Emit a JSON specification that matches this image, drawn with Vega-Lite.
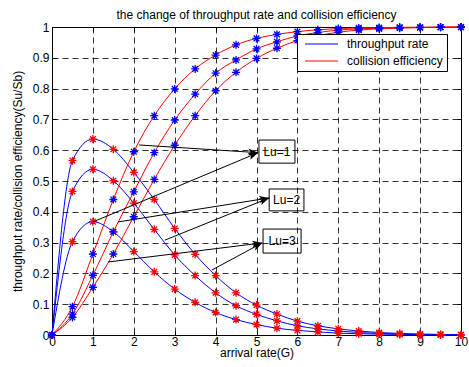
{
  "$schema": "https://vega.github.io/schema/vega-lite/v6.json",
  "width": 409,
  "height": 308,
  "autosize": {"type": "none"},
  "padding": {"left": 52, "top": 27, "right": 8, "bottom": 32},
  "background": "white",
  "title": {
    "text": "the change of throughput rate and collision efficiency",
    "fontSize": 12,
    "fontWeight": "normal",
    "color": "black",
    "frame": "group",
    "anchor": "middle",
    "baseline": "alphabetic",
    "offset": -11
  },
  "config": {
    "font": "Liberation Sans",
    "view": {"stroke": "black", "strokeWidth": 1},
    "axis": {
      "domainColor": "black",
      "tickColor": "black",
      "labelColor": "black",
      "titleColor": "black",
      "labelFontSize": 12,
      "titleFontSize": 12,
      "titleFontWeight": "normal",
      "gridColor": "black",
      "gridDash": [6, 4],
      "gridOpacity": 0.8,
      "tickSize": -4,
      "labelPadding": 6,
      "labelFlush": false
    }
  },
  "datasets": {
    "curves": [
      {"G":0,"v":0,"s":"S1","k":"throughput rate"},{"G":0.5,"v":0.566,"s":"S1","k":"throughput rate"},{"G":1,"v":0.636,"s":"S1","k":"throughput rate"},{"G":1.5,"v":0.603,"s":"S1","k":"throughput rate"},{"G":2,"v":0.528,"s":"S1","k":"throughput rate"},{"G":2.5,"v":0.44,"s":"S1","k":"throughput rate"},{"G":3,"v":0.346,"s":"S1","k":"throughput rate"},{"G":3.5,"v":0.262,"s":"S1","k":"throughput rate"},{"G":4,"v":0.193,"s":"S1","k":"throughput rate"},{"G":4.5,"v":0.137,"s":"S1","k":"throughput rate"},{"G":5,"v":0.097,"s":"S1","k":"throughput rate"},{"G":5.5,"v":0.068,"s":"S1","k":"throughput rate"},{"G":6,"v":0.045,"s":"S1","k":"throughput rate"},{"G":6.5,"v":0.03,"s":"S1","k":"throughput rate"},{"G":7,"v":0.02,"s":"S1","k":"throughput rate"},{"G":7.5,"v":0.013,"s":"S1","k":"throughput rate"},{"G":8,"v":0.008,"s":"S1","k":"throughput rate"},{"G":8.5,"v":0.005,"s":"S1","k":"throughput rate"},{"G":9,"v":0.003,"s":"S1","k":"throughput rate"},{"G":9.5,"v":0.002,"s":"S1","k":"throughput rate"},{"G":10,"v":0.001,"s":"S1","k":"throughput rate"},
      {"G":0,"v":0,"s":"S2","k":"throughput rate"},{"G":0.5,"v":0.466,"s":"S2","k":"throughput rate"},{"G":1,"v":0.538,"s":"S2","k":"throughput rate"},{"G":1.5,"v":0.501,"s":"S2","k":"throughput rate"},{"G":2,"v":0.428,"s":"S2","k":"throughput rate"},{"G":2.5,"v":0.343,"s":"S2","k":"throughput rate"},{"G":3,"v":0.26,"s":"S2","k":"throughput rate"},{"G":3.5,"v":0.193,"s":"S2","k":"throughput rate"},{"G":4,"v":0.137,"s":"S2","k":"throughput rate"},{"G":4.5,"v":0.095,"s":"S2","k":"throughput rate"},{"G":5,"v":0.067,"s":"S2","k":"throughput rate"},{"G":5.5,"v":0.046,"s":"S2","k":"throughput rate"},{"G":6,"v":0.03,"s":"S2","k":"throughput rate"},{"G":6.5,"v":0.02,"s":"S2","k":"throughput rate"},{"G":7,"v":0.013,"s":"S2","k":"throughput rate"},{"G":7.5,"v":0.008,"s":"S2","k":"throughput rate"},{"G":8,"v":0.005,"s":"S2","k":"throughput rate"},{"G":8.5,"v":0.003,"s":"S2","k":"throughput rate"},{"G":9,"v":0.002,"s":"S2","k":"throughput rate"},{"G":9.5,"v":0.001,"s":"S2","k":"throughput rate"},{"G":10,"v":0.001,"s":"S2","k":"throughput rate"},
      {"G":0,"v":0,"s":"S3","k":"throughput rate"},{"G":0.5,"v":0.303,"s":"S3","k":"throughput rate"},{"G":1,"v":0.368,"s":"S3","k":"throughput rate"},{"G":1.5,"v":0.335,"s":"S3","k":"throughput rate"},{"G":2,"v":0.271,"s":"S3","k":"throughput rate"},{"G":2.5,"v":0.205,"s":"S3","k":"throughput rate"},{"G":3,"v":0.149,"s":"S3","k":"throughput rate"},{"G":3.5,"v":0.106,"s":"S3","k":"throughput rate"},{"G":4,"v":0.073,"s":"S3","k":"throughput rate"},{"G":4.5,"v":0.05,"s":"S3","k":"throughput rate"},{"G":5,"v":0.034,"s":"S3","k":"throughput rate"},{"G":5.5,"v":0.022,"s":"S3","k":"throughput rate"},{"G":6,"v":0.015,"s":"S3","k":"throughput rate"},{"G":6.5,"v":0.01,"s":"S3","k":"throughput rate"},{"G":7,"v":0.006,"s":"S3","k":"throughput rate"},{"G":7.5,"v":0.004,"s":"S3","k":"throughput rate"},{"G":8,"v":0.003,"s":"S3","k":"throughput rate"},{"G":8.5,"v":0.002,"s":"S3","k":"throughput rate"},{"G":9,"v":0.001,"s":"S3","k":"throughput rate"},{"G":9.5,"v":0.001,"s":"S3","k":"throughput rate"},{"G":10,"v":0,"s":"S3","k":"throughput rate"},
      {"G":0,"v":0,"s":"E1","k":"collision efficiency"},{"G":0.5,"v":0.092,"s":"E1","k":"collision efficiency"},{"G":1,"v":0.263,"s":"E1","k":"collision efficiency"},{"G":1.5,"v":0.44,"s":"E1","k":"collision efficiency"},{"G":2,"v":0.595,"s":"E1","k":"collision efficiency"},{"G":2.5,"v":0.712,"s":"E1","k":"collision efficiency"},{"G":3,"v":0.799,"s":"E1","k":"collision efficiency"},{"G":3.5,"v":0.864,"s":"E1","k":"collision efficiency"},{"G":4,"v":0.909,"s":"E1","k":"collision efficiency"},{"G":4.5,"v":0.942,"s":"E1","k":"collision efficiency"},{"G":5,"v":0.963,"s":"E1","k":"collision efficiency"},{"G":5.5,"v":0.976,"s":"E1","k":"collision efficiency"},{"G":6,"v":0.985,"s":"E1","k":"collision efficiency"},{"G":6.5,"v":0.991,"s":"E1","k":"collision efficiency"},{"G":7,"v":0.995,"s":"E1","k":"collision efficiency"},{"G":7.5,"v":0.997,"s":"E1","k":"collision efficiency"},{"G":8,"v":0.998,"s":"E1","k":"collision efficiency"},{"G":8.5,"v":0.999,"s":"E1","k":"collision efficiency"},{"G":9,"v":0.999,"s":"E1","k":"collision efficiency"},{"G":9.5,"v":1,"s":"E1","k":"collision efficiency"},{"G":10,"v":1,"s":"E1","k":"collision efficiency"},
      {"G":0,"v":0,"s":"E2","k":"collision efficiency"},{"G":0.5,"v":0.068,"s":"E2","k":"collision efficiency"},{"G":1,"v":0.194,"s":"E2","k":"collision efficiency"},{"G":1.5,"v":0.335,"s":"E2","k":"collision efficiency"},{"G":2,"v":0.465,"s":"E2","k":"collision efficiency"},{"G":2.5,"v":0.592,"s":"E2","k":"collision efficiency"},{"G":3,"v":0.698,"s":"E2","k":"collision efficiency"},{"G":3.5,"v":0.782,"s":"E2","k":"collision efficiency"},{"G":4,"v":0.85,"s":"E2","k":"collision efficiency"},{"G":4.5,"v":0.893,"s":"E2","k":"collision efficiency"},{"G":5,"v":0.929,"s":"E2","k":"collision efficiency"},{"G":5.5,"v":0.952,"s":"E2","k":"collision efficiency"},{"G":6,"v":0.971,"s":"E2","k":"collision efficiency"},{"G":6.5,"v":0.982,"s":"E2","k":"collision efficiency"},{"G":7,"v":0.99,"s":"E2","k":"collision efficiency"},{"G":7.5,"v":0.994,"s":"E2","k":"collision efficiency"},{"G":8,"v":0.996,"s":"E2","k":"collision efficiency"},{"G":8.5,"v":0.998,"s":"E2","k":"collision efficiency"},{"G":9,"v":0.999,"s":"E2","k":"collision efficiency"},{"G":9.5,"v":0.999,"s":"E2","k":"collision efficiency"},{"G":10,"v":1,"s":"E2","k":"collision efficiency"},
      {"G":0,"v":0,"s":"E3","k":"collision efficiency"},{"G":0.5,"v":0.057,"s":"E3","k":"collision efficiency"},{"G":1,"v":0.155,"s":"E3","k":"collision efficiency"},{"G":1.5,"v":0.263,"s":"E3","k":"collision efficiency"},{"G":2,"v":0.384,"s":"E3","k":"collision efficiency"},{"G":2.5,"v":0.505,"s":"E3","k":"collision efficiency"},{"G":3,"v":0.616,"s":"E3","k":"collision efficiency"},{"G":3.5,"v":0.712,"s":"E3","k":"collision efficiency"},{"G":4,"v":0.793,"s":"E3","k":"collision efficiency"},{"G":4.5,"v":0.853,"s":"E3","k":"collision efficiency"},{"G":5,"v":0.898,"s":"E3","k":"collision efficiency"},{"G":5.5,"v":0.931,"s":"E3","k":"collision efficiency"},{"G":6,"v":0.956,"s":"E3","k":"collision efficiency"},{"G":6.5,"v":0.972,"s":"E3","k":"collision efficiency"},{"G":7,"v":0.983,"s":"E3","k":"collision efficiency"},{"G":7.5,"v":0.99,"s":"E3","k":"collision efficiency"},{"G":8,"v":0.994,"s":"E3","k":"collision efficiency"},{"G":8.5,"v":0.996,"s":"E3","k":"collision efficiency"},{"G":9,"v":0.998,"s":"E3","k":"collision efficiency"},{"G":9.5,"v":0.999,"s":"E3","k":"collision efficiency"},{"G":10,"v":0.999,"s":"E3","k":"collision efficiency"}
    ],
    "arrows": [
      {"lab":"Lu=1","G":2.13,"v":0.617,"G2":5.04,"v2":0.592},
      {"lab":"Lu=1","G":1.0,"v":0.367,"G2":5.04,"v2":0.592},
      {"lab":"Lu=2","G":1.61,"v":0.367,"G2":5.31,"v2":0.445},
      {"lab":"Lu=2","G":2.76,"v":0.308,"G2":5.31,"v2":0.445},
      {"lab":"Lu=3","G":1.37,"v":0.237,"G2":5.14,"v2":0.299},
      {"lab":"Lu=3","G":3.91,"v":0.211,"G2":5.14,"v2":0.299}
    ],
    "boxes": [
      {"lab":"Lu=1","G":5.06,"G2":5.94,"v":0.558,"v2":0.633,"Gc":5.5,"vc":0.595},
      {"lab":"Lu=2","G":5.31,"G2":6.16,"v":0.403,"v2":0.474,"Gc":5.735,"vc":0.438},
      {"lab":"Lu=3","G":5.16,"G2":6.09,"v":0.266,"v2":0.344,"Gc":5.625,"vc":0.305}
    ]
  },
  "encoding": {
    "x": {"field": "G", "type": "quantitative", "scale": {"domain": [0, 10], "nice": false}, "axis": null},
    "y": {"field": "v", "type": "quantitative", "scale": {"domain": [0, 1], "nice": false}, "axis": null}
  },
  "layer": [
    {
      "data": {"name": "curves"},
      "transform": [{"filter": "datum.k == 'throughput rate'"}],
      "mark": {"type": "line", "interpolate": "monotone", "strokeWidth": 1},
      "encoding": {
        "x": {"field": "G", "type": "quantitative", "scale": {"domain": [0, 10], "nice": false},
          "axis": {"orient": "bottom", "values": [0,1,2,3,4,5,6,7,8,9,10], "format": "~r", "grid": true, "labelPadding": 5,
            "title": "arrival rate(G)", "titleBaseline": "alphabetic", "titleY": 21}},
        "y": {"field": "v", "type": "quantitative", "scale": {"domain": [0, 1], "nice": false},
          "axis": {"orient": "left", "values": [0,0.1,0.2,0.3,0.4,0.5,0.6,0.7,0.8,0.9,1], "format": "~r", "grid": true, "labelPadding": 7,
            "title": "throughput rate/collision efficiency(Su/Sb)", "titleBaseline": "alphabetic", "titleX": -31, "titleY": 154}},
        "color": {"field": "k", "type": "nominal",
          "scale": {"domain": ["throughput rate", "collision efficiency"], "range": ["#0000ff", "#ff0000"]},
          "legend": {"orient": "none", "legendX": 245, "legendY": 7, "direction": "vertical", "title": null,
            "fillColor": "white", "strokeColor": "black", "padding": 4, "rowPadding": 5,
            "symbolType": "M-0.36,0H5.64", "symbolSize": 121, "symbolStrokeWidth": 1,
            "labelFontSize": 12, "labelColor": "black", "labelOffset": 34}},
        "detail": {"field": "s"}
      }
    },
    {
      "data": {"name": "curves"},
      "transform": [{"filter": "datum.k == 'collision efficiency'"}],
      "mark": {"type": "line", "interpolate": "monotone", "strokeWidth": 1},
      "encoding": {
        "color": {"field": "k", "type": "nominal",
          "scale": {"domain": ["throughput rate", "collision efficiency"], "range": ["#0000ff", "#ff0000"]},
          "legend": {"orient": "none", "legendX": 245, "legendY": 7, "direction": "vertical", "title": null,
            "fillColor": "white", "strokeColor": "black", "padding": 4, "rowPadding": 5,
            "symbolType": "M-0.36,0H5.64", "symbolSize": 121, "symbolStrokeWidth": 1,
            "labelFontSize": 12, "labelColor": "black", "labelOffset": 34}},
        "detail": {"field": "s"}
      }
    },
    {
      "data": {"name": "curves"},
      "transform": [{"filter": "datum.k == 'throughput rate'"}],
      "mark": {"type": "point", "shape": "M-1,0H1M0,-1V1M-0.71,-0.71L0.71,0.71M-0.71,0.71L0.71,-0.71",
        "filled": false, "stroke": "#ff0000", "strokeWidth": 1.3, "size": 64, "opacity": 1}
    },
    {
      "data": {"name": "curves"},
      "transform": [{"filter": "datum.k == 'collision efficiency'"}],
      "mark": {"type": "point", "shape": "M-1,0H1M0,-1V1M-0.71,-0.71L0.71,0.71M-0.71,0.71L0.71,-0.71",
        "filled": false, "stroke": "#0000ff", "strokeWidth": 1.3, "size": 64, "opacity": 1},
      "encoding": {
        "x": {"field": "G", "type": "quantitative", "scale": {"domain": [0, 10], "nice": false},
          "axis": {"orient": "top", "values": [0,1,2,3,4,5,6,7,8,9,10], "labels": false, "grid": false, "title": null}},
        "y": {"field": "v", "type": "quantitative", "scale": {"domain": [0, 1], "nice": false},
          "axis": {"orient": "right", "values": [0,0.1,0.2,0.3,0.4,0.5,0.6,0.7,0.8,0.9,1], "labels": false, "grid": false, "title": null}}
      }
    },
    {
      "data": {"name": "arrows"},
      "mark": {"type": "rule", "color": "black", "strokeWidth": 1},
      "encoding": {
        "x2": {"field": "G2"},
        "y2": {"field": "v2"}
      }
    },
    {
      "data": {"name": "arrows"},
      "transform": [{"calculate": "atan2(-(datum.v2 - datum.v) * 308, (datum.G2 - datum.G) * 40.9) * 180 / PI", "as": "ang"}],
      "mark": {"type": "point", "shape": "M0,0L-2,-0.7L-1.5,0L-2,0.7Z", "filled": true, "fill": "black", "strokeWidth": 0, "size": 100, "opacity": 1},
      "encoding": {
        "x": {"field": "G2", "type": "quantitative", "scale": {"domain": [0, 10], "nice": false}, "axis": null},
        "y": {"field": "v2", "type": "quantitative", "scale": {"domain": [0, 1], "nice": false}, "axis": null},
        "angle": {"field": "ang", "type": "quantitative", "scale": null}
      }
    },
    {
      "data": {"name": "boxes"},
      "mark": {"type": "rect", "fill": null, "fillOpacity": 0, "stroke": "black", "strokeWidth": 1},
      "encoding": {
        "x2": {"field": "G2"},
        "y2": {"field": "v2"}
      }
    },
    {
      "data": {"name": "boxes"},
      "mark": {"type": "text", "fontSize": 12, "color": "black", "align": "center", "baseline": "middle"},
      "encoding": {
        "x": {"field": "Gc", "type": "quantitative", "scale": {"domain": [0, 10], "nice": false}, "axis": null},
        "y": {"field": "vc", "type": "quantitative", "scale": {"domain": [0, 1], "nice": false}, "axis": null},
        "text": {"field": "lab"}
      }
    }
  ],
  "resolve": {"axis": {"x": "independent", "y": "independent"}}
}
